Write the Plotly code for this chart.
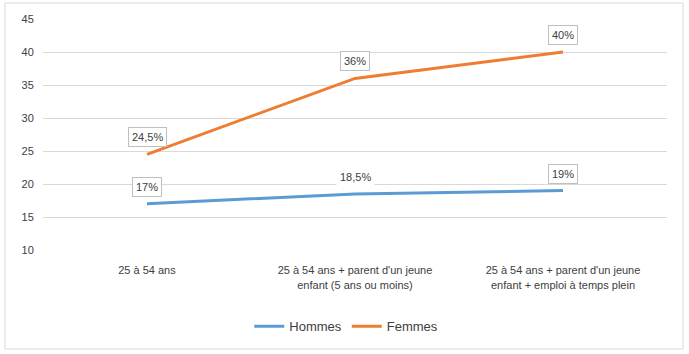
import plotly.graph_objects as go

categories = ["25 à 54 ans",
              "25 à 54 ans + parent d'un jeune<br>enfant (5 ans ou moins)",
              "25 à 54 ans + parent d'un jeune<br>enfant + emploi à temps plein"]
hommes = [17, 18.5, 19]
femmes = [24.5, 36, 40]
hommes_labels = ["17%", "18,5%", "19%"]
femmes_labels = ["24,5%", "36%", "40%"]
hommes_boxed = [True, False, True]
femmes_boxed = [True, True, True]
y_ticks = [10, 15, 20, 25, 30, 35, 40, 45]

BLUE = "#5B9BD5"
ORANGE = "#ED7D31"
FONT = "Liberation Sans"

fig = go.Figure()
fig.add_trace(go.Scatter(x=categories, y=hommes, mode="lines", name="Hommes",
                         line=dict(color=BLUE, width=3)))
fig.add_trace(go.Scatter(x=categories, y=femmes, mode="lines", name="Femmes",
                         line=dict(color=ORANGE, width=3)))

for vals, labs, boxed in [(hommes, hommes_labels, hommes_boxed),
                          (femmes, femmes_labels, femmes_boxed)]:
    for c, v, t, b in zip(categories, vals, labs, boxed):
        fig.add_annotation(x=c, y=v, text=t, showarrow=False, yshift=17,
                           font=dict(family=FONT, size=11, color="#404040"),
                           bordercolor="#BFBFBF" if b else "rgba(0,0,0,0)",
                           borderwidth=1, borderpad=3, bgcolor="white")

L, R, T, B = 43, 22, 19, 104
W, H = 689, 354
pw, ph = W - L - R, H - T - B
fig.add_shape(type="rect", xref="paper", yref="paper",
              x0=(5 - L) / pw, x1=(683 - L) / pw,
              y0=(H - B - 349) / ph, y1=(H - B - 3) / ph,
              line=dict(color="#D9D9D9", width=1), layer="below")

fig.update_layout(
    width=W, height=H,
    margin=dict(l=L, r=R, t=T, b=B),
    paper_bgcolor="white", plot_bgcolor="white",
    font=dict(family=FONT, size=11, color="#404040"),
    showlegend=True,
    legend=dict(orientation="h", x=0.486, xanchor="center", y=-0.33, yanchor="middle",
                font=dict(family=FONT, size=13, color="#404040"),
                itemwidth=30),
    xaxis=dict(type="category", range=[-0.5, 2.5], showgrid=False, showline=False,
               zeroline=False, ticks="outside", ticklen=10, tickcolor="rgba(0,0,0,0)",
               tickfont=dict(family=FONT, size=11, color="#404040")),
    yaxis=dict(range=[10, 45], tickvals=y_ticks, showgrid=True, gridcolor="#D9D9D9",
               gridwidth=1, zeroline=False, showline=False, ticks="outside", ticklen=6,
               tickcolor="rgba(0,0,0,0)",
               tickfont=dict(family=FONT, size=11, color="#404040")),
)

fig.write_html("out.html")
